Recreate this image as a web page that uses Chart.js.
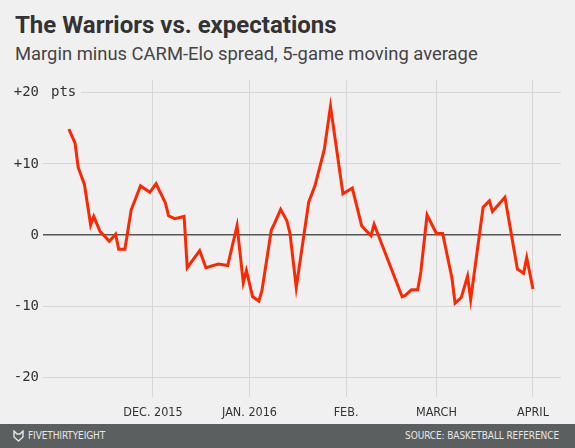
<!DOCTYPE html>
<html>
<head>
<meta charset="utf-8">
<script src="https://cdn.jsdelivr.net/npm/chart.js@4.4.1/dist/chart.umd.min.js"></script>
<style>
  html, body { margin: 0; padding: 0; }
  body { width: 575px; height: 448px; background: #f0f0f0; position: relative; overflow: hidden; }
  #title { position: absolute; left: 15px; top: 13px; font: bold 24px Roboto, "Liberation Sans", sans-serif; line-height: 24px; color: #333; white-space: nowrap; }
  #subtitle { position: absolute; left: 15px; top: 45px; font: 18.4px Roboto, "Liberation Sans", sans-serif; line-height: 18px; color: #444; white-space: nowrap; }
  #footer { position: absolute; left: 0; top: 424px; width: 575px; height: 24px; background: #5b5f60; }
  #footer span { position: absolute; top: 6px; font: 10px "DejaVu Sans Condensed", sans-serif; line-height: 12px; color: #e6e6e6; letter-spacing: -0.1px; white-space: nowrap; }
  #brand { left: 28px; }
  #source { right: 16px; }
  #logo { position: absolute; left: 13px; top: 6px; }
  #wrap { position: absolute; left: 0; top: 0; width: 575px; height: 448px; }
</style>
</head>
<body>
<div id="title">The Warriors vs. expectations</div>
<div id="subtitle">Margin minus CARM-Elo spread, 5-game moving average</div>
<div id="footer">
  <svg id="logo" width="11" height="12" viewBox="0 0 11 12"><path d="M1 1 L4 4 L7 4 L10 1 L10 7 L5.5 11 L1 7 Z" fill="none" stroke="#e6e6e6" stroke-width="1.4"/></svg>
  <span id="brand">FIVETHIRTYEIGHT</span>
  <span id="source">SOURCE: BASKETBALL REFERENCE</span>
</div>
<div id="wrap"><canvas id="myChart" width="575" height="448"></canvas></div>
<script>
// days counted from Nov 1, 2015
var gameDays = [3,5,6,8,10,11,13,16,18,19,21,23,26,29,31,34,35,37,40,41,45,47,51,54,57,59,60,62,64,65,68,69,71,73,74,76,80,82,85,87,91,94,97,100,101,110,111,113,115,116,118,121,123,126,127,129,131,132,136,138,139,143,147,149,150,152];
var margins = [14.9,12.9,9.5,7.1,1.4,2.6,0.5,-0.9,0.1,-2.0,-2.0,3.5,6.9,6.0,7.2,4.5,2.7,2.3,2.6,-4.6,-2.2,-4.6,-4.1,-4.3,1.3,-6.7,-5.0,-8.7,-9.3,-7.8,0.7,1.6,3.6,2.0,0.2,-7.4,4.6,6.9,12.0,18.1,5.8,6.6,1.3,-0.1,1.5,-8.7,-8.5,-7.7,-7.7,-5.2,2.8,0.2,0.2,-6.1,-9.6,-8.8,-5.8,-9.1,3.9,4.8,3.3,5.3,-4.8,-5.4,-3.2,-7.6];
var monthDays = [30,61,92,121,152];
var monthLabels = ['DEC. 2015','JAN. 2016','FEB.','MARCH','APRIL'];
var yTicks = [-20,-10,0,10,20];
var yLabels = ['-20','-10','0','+10','+20'];

var points = gameDays.map(function(d,i){ return {x:d, y:margins[i]}; });

var monoFont = {family:'"DejaVu Sans Mono", "Liberation Mono", monospace', size:14};

// "pts" after the +20 label, gridline under it hidden
var ptsLabel = {
    id:'ptsLabel',
    beforeDatasetsDraw: function(chart){
        var c = chart.ctx;
        var y = chart.scales.y.getPixelForValue(20);
        c.save();
        c.fillStyle = '#f0f0f0';
        c.fillRect(chart.chartArea.left, y-3, 38, 6);
        c.fillStyle = '#333';
        c.font = '14px ' + monoFont.family;
        c.textBaseline = 'middle';
        c.fillText('pts', 51, y);
        c.restore();
    }
};

var ctx = document.getElementById('myChart').getContext('2d');
var myChart = new Chart(ctx, {
    type: 'line',
    data: {
        datasets: [{
            data: points,
            borderColor: '#ff2700',
            borderWidth: 3,
            pointRadius: 0,
            tension: 0,
            fill: false
        }]
    },
    options: {
        responsive: false,
        animation: false,
        layout: { padding: { top: 80, right: 14, bottom: 25, left: 0 } },
        plugins: { legend: { display: false }, tooltip: { enabled: false } },
        scales: {
            x: {
                type: 'linear',
                min: -5.3,
                max: 161,
                afterBuildTicks: function(s){ s.ticks = monthDays.map(function(v){ return {value:v}; }); },
                afterFit: function(s){ s.height = 26; },
                ticks: {
                    autoSkip: false,
                    maxRotation: 0,
                    padding: 8,
                    color: '#333',
                    font: { family: '"DejaVu Sans Condensed", sans-serif', size: 12.5 },
                    callback: function(v){ return monthLabels[monthDays.indexOf(v)]; }
                },
                grid: { color: '#d6d6d6', lineWidth: 1, drawTicks: false },
                border: { display: false }
            },
            y: {
                min: -22.8,
                max: 21.8,
                afterBuildTicks: function(s){ s.ticks = yTicks.map(function(v){ return {value:v}; }); },
                afterFit: function(s){ s.width = 43; },
                ticks: {
                    padding: 4,
                    color: '#333',
                    font: monoFont,
                    callback: function(v){ return yLabels[yTicks.indexOf(v)]; }
                },
                grid: {
                    drawTicks: false,
                    color: function(c){ return c.tick && c.tick.value === 0 ? '#555' : '#d6d6d6'; },
                    lineWidth: function(c){ return c.tick && c.tick.value === 0 ? 1.5 : 1; }
                },
                border: { display: false }
            }
        }
    },
    plugins: [ptsLabel]
});
</script>
</body>
</html>
